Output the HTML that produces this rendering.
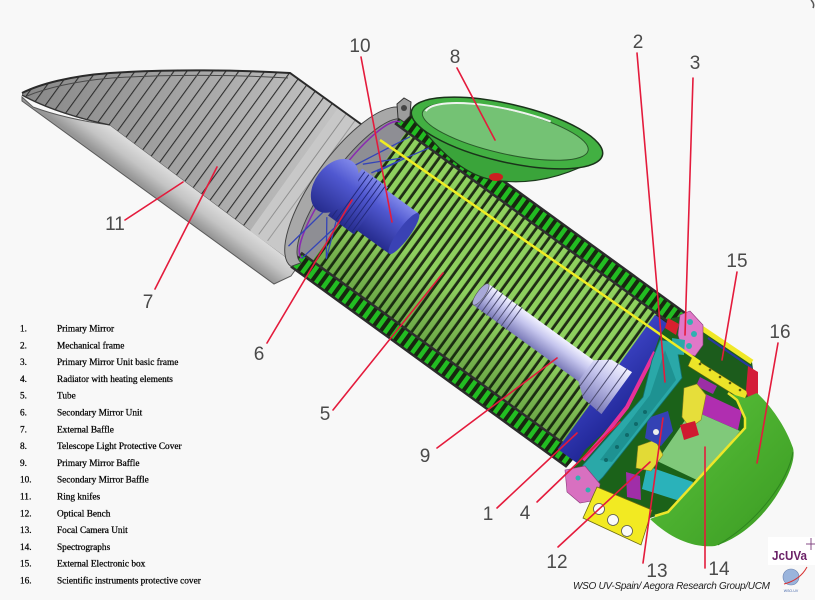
<!DOCTYPE html>
<html><head><meta charset="utf-8">
<style>
html,body{margin:0;padding:0;background:#f8f8f8;overflow:hidden;}
svg{display:block;}
</style></head><body>
<svg width="815" height="600" viewBox="0 0 815 600" xmlns="http://www.w3.org/2000/svg">
<defs>
<pattern id="ribs" patternUnits="userSpaceOnUse" x="0" y="-200" width="8" height="400"><rect width="8" height="400" fill="#1e2c14"/><rect x="1.5" width="5.2" height="400" fill="#8ed05e"/></pattern>
<pattern id="dash" patternUnits="userSpaceOnUse" x="0" y="-200" width="8.5" height="400"><rect width="8.5" height="400" fill="#17260f"/><rect x="2" width="4.5" height="400" fill="#22bd22"/></pattern>
<pattern id="hatch" patternUnits="userSpaceOnUse" x="0" y="-400" width="10.5" height="800" patternTransform="translate(348,188) rotate(36)"><rect x="0" width="1.1" height="800" fill="#2e2e2e"/></pattern>
<linearGradient id="bafIn" gradientUnits="userSpaceOnUse" x1="20" y1="0" x2="360" y2="0"><stop offset="0" stop-color="#888888"/><stop offset=".45" stop-color="#a2a2a2"/><stop offset=".75" stop-color="#b6b6b6"/><stop offset="1" stop-color="#c8c8c8"/></linearGradient>
<linearGradient id="bafOut" gradientUnits="userSpaceOnUse" x1="200" y1="193" x2="183" y2="216"><stop offset="0" stop-color="#dcdcdc"/><stop offset=".5" stop-color="#c4c4c4"/><stop offset="1" stop-color="#969696"/></linearGradient>
<linearGradient id="blueG" x1="0" y1="0" x2="0" y2="1"><stop offset="0" stop-color="#8088ea"/><stop offset=".35" stop-color="#5058d0"/><stop offset="1" stop-color="#262c8e"/></linearGradient>
<linearGradient id="lavG" x1="0" y1="0" x2="0" y2="1"><stop offset="0" stop-color="#f2f2ff"/><stop offset=".4" stop-color="#c6c6ee"/><stop offset="1" stop-color="#7a7ab8"/></linearGradient>
<linearGradient id="mirG" x1="0" y1="0" x2="1" y2="1"><stop offset="0" stop-color="#3a42c2"/><stop offset="1" stop-color="#1e2492"/></linearGradient>
<linearGradient id="covG" x1="0" y1="0" x2="1" y2="1"><stop offset="0" stop-color="#5cc43c"/><stop offset="1" stop-color="#3a9a22"/></linearGradient>
<linearGradient id="shadeG" x1="0" y1="0" x2="0" y2="1"><stop offset="0" stop-color="#000" stop-opacity="0"/><stop offset=".6" stop-color="#000" stop-opacity="0"/><stop offset="1" stop-color="#0a3a05" stop-opacity=".25"/></linearGradient>
</defs>

<rect width="815" height="600" fill="#f8f8f8"/>

<!-- External baffle -->
<path d="M22,97 L33,107 C60,117 88,122 110,125 L298,266 L291,276 L274,284 L22,101 Z" fill="url(#bafOut)" stroke="#5a5a5a" stroke-width="1"/>
<path d="M22,93 C40,84 70,76 110,73 C170,69 240,70 290,73 L365,127 C345,140 318,180 298,266 L110,125 C75,119 45,108 22,95 Z" fill="url(#bafIn)"/>
<path d="M22,93 C40,84 70,76 110,73 C170,69 240,70 290,73 L365,127 C345,140 318,180 298,266 L110,125 C75,119 45,108 22,95 Z" fill="url(#hatch)"/>
<path d="M338,108 L365,127 C345,140 318,180 298,266 L250,231 Z" fill="#c8c8c8"/>
<g transform="translate(348,188) rotate(36)">
<line x1="-45" y1="-59" x2="-45" y2="90" stroke="#8e8e8e" stroke-width="1"/>
<line x1="-34" y1="-59" x2="-34" y2="90" stroke="#9a9a9a" stroke-width="1"/>
</g>
<path d="M22,93 C40,84 70,76 110,73 C170,69 240,70 290,73 L365,127" fill="none" stroke="#2a2a2a" stroke-width="2"/>
<path d="M27,96 C46,88 76,81 112,78 C170,74 240,75 288,78" fill="none" stroke="#4a4a4a" stroke-width="1"/>
<path d="M22,95 C45,108 80,119 110,125" fill="none" stroke="#333" stroke-width="1.3"/>

<!-- Tube (local frame) -->
<g transform="translate(348,188) rotate(36)">
<path d="M0,-97 L356,-97 L341,97 L0,97 A34 97 0 0 1 0,-97 Z" fill="#1c2812"/>
<path d="M6,-88 A26 88 0 0 0 6,88 L16,80 L16,-80 Z" fill="#8e8e94"/>
<polygon points="14,-80 324,-80 324,80 14,80" fill="url(#ribs)"/>
<polygon points="14,-80 324,-80 324,80 14,80" fill="url(#shadeG)"/>
<polygon points="0,-97 356,-97 354.7,-80 0,-80" fill="url(#dash)"/>
<polygon points="0,80 342.3,80 341,97 0,97" fill="url(#dash)"/>
<line x1="0" y1="-97" x2="356" y2="-97" stroke="#2b2b2b" stroke-width="2.5"/>
<line x1="0" y1="-80" x2="354" y2="-80" stroke="#2e2e2e" stroke-width="2.5"/>
<line x1="0" y1="80" x2="342" y2="80" stroke="#2e2e2e" stroke-width="2.5"/>
<line x1="0" y1="97" x2="341" y2="97" stroke="#2b2b2b" stroke-width="2.5"/>
<!-- primary mirror -->
<polygon points="323,-78 346,-78 352,-40 354,46 350,88 323,88" fill="url(#mirG)"/>
<!-- primary mirror baffle -->
<rect x="170" y="-5" width="135" height="26" fill="url(#lavG)"/>
<path d="M300,-5 L314,-16 L338,-18 L338,34 L314,32 L300,21 Z" fill="url(#lavG)"/>
<ellipse cx="170" cy="8" rx="4" ry="13" fill="#a8a8d8" stroke="#555" stroke-width=".6"/>
<g stroke="#4e4e72" stroke-width="1">
<line x1="175" y1="-6" x2="175" y2="22"/><line x1="181" y1="-6" x2="181" y2="22"/><line x1="187" y1="-6" x2="187" y2="22"/><line x1="193" y1="-6" x2="193" y2="22"/><line x1="199" y1="-6" x2="199" y2="22"/><line x1="205" y1="-6" x2="205" y2="22"/><line x1="211" y1="-6" x2="211" y2="22"/>
<line x1="304" y1="-8" x2="304" y2="24"/><line x1="312" y1="-14" x2="312" y2="30"/><line x1="322" y1="-17" x2="322" y2="33"/><line x1="332" y1="-18" x2="332" y2="34"/>
</g>
<!-- front ring -->
<path d="M0,-97 A34 97 0 0 0 0,97 L6,88 A26 88 0 0 1 6,-88 Z" fill="#a8a8a8" stroke="#444" stroke-width="1"/>
<path d="M4,-84 A20 84 0 0 0 4,84" fill="none" stroke="#8a2ab0" stroke-width="1.5"/>
<!-- spider -->
<g stroke="#3444b8" stroke-width="1.3" fill="none">
<path d="M-8,-22 L20,-78 M10,-26 L42,-80 M-2,-28 L30,-60 L14,-30"/>
<path d="M-6,34 L-14,82 M14,32 L4,84 M0,36 L24,70 L10,34"/>
</g>
<!-- secondary mirror unit -->
<rect x="30" y="-21" width="42" height="50" fill="url(#blueG)"/>
<ellipse cx="72" cy="4" rx="6" ry="25" fill="#3a42b4"/>
<rect x="0" y="-24" width="32" height="58" fill="url(#blueG)"/>
<g stroke="#22287a" stroke-width="1"><line x1="4" y1="-23" x2="4" y2="33"/><line x1="9" y1="-23" x2="9" y2="33"/><line x1="14" y1="-23" x2="14" y2="33"/><line x1="19" y1="-23" x2="19" y2="33"/><line x1="24" y1="-23" x2="24" y2="33"/><line x1="29" y1="-23" x2="29" y2="33"/></g>
<ellipse cx="-12" cy="6" rx="20" ry="30" fill="url(#blueG)"/>
</g>

<!-- front top mechanism -->
<polygon points="397,104 404,98 411,102 410,116 404,122 398,118" fill="#9c9c9c" stroke="#333" stroke-width="1"/>
<circle cx="404" cy="108" r="3" fill="#444"/>

<!-- Rear section -->
<polygon points="684,316 700,326 690,362 745,398 757,396 745,428 700,480 668,512 650,518 640,522 620,512 600,500 583,490 572,470 585,450 600,436 627,407 652,358 660,335 672,318" fill="#1b6219"/>
<polygon points="668,318 679,324 676,335 665,328" fill="#d8202e"/>
<!-- box 15 -->
<polygon points="700,327 752,362 757,396 745,398 690,362 695,340" fill="#1c5c1c"/>
<line x1="708" y1="338" x2="752" y2="368" stroke="#2838a0" stroke-width="2"/>
<line x1="700" y1="327" x2="752" y2="362" stroke="#f0e828" stroke-width="5"/>
<polygon points="692,357 748,392 744,401 688,366" fill="#ece428" stroke="#6a6410" stroke-width=".6"/>
<g fill="#5a5a10"><circle cx="700" cy="364" r="1.3"/><circle cx="710" cy="370" r="1.3"/><circle cx="720" cy="377" r="1.3"/><circle cx="730" cy="383" r="1.3"/><circle cx="740" cy="390" r="1.3"/></g>
<polygon points="748,366 758,372 758,396 748,398 746,390" fill="#d41e3a"/>
<!-- pink frame top -->
<polygon points="680,315 690,311 703,325 703,345 695,356 683,352 678,335" fill="#e078c8" stroke="#8a3a7a" stroke-width=".6"/>
<g fill="#30b0b0"><circle cx="690" cy="322" r="3"/><circle cx="694" cy="334" r="3"/><circle cx="689" cy="346" r="3"/></g>
<!-- inner components -->
<polygon points="700,377 717,386 713,394 696,386" fill="#9c2ea6"/>
<polygon points="697,390 742,411 738,430 692,410" fill="#b02eb0"/>
<polygon points="692,410 740,431 699,481 657,461" fill="#80c97a"/>
<polygon points="647,466 693,482 686,503 642,489" fill="#2ab2ba"/>
<polygon points="626,472 640,476 641,500 627,497" fill="#a02ea8"/>
<polygon points="684,388 697,384 706,395 701,420 690,428 682,417" fill="#e6de3a" stroke="#8a8420" stroke-width=".6"/>
<polygon points="638,446 655,440 663,455 651,471 636,468" fill="#e2da36" stroke="#8a8420" stroke-width=".6"/>
<polygon points="648,418 668,411 673,431 661,446 645,438" fill="#3442b4"/>
<circle cx="656" cy="432" r="3" fill="#eeeeee"/>
<polygon points="680,425 695,421 699,435 684,440" fill="#d01a30"/>
<!-- pink strip & cyan frame -->
<polyline points="655,352 627,407 605,435 583,460" fill="none" stroke="#e8309a" stroke-width="4"/>
<polygon points="660,340 676,342 682,378 603,477 590,490 578,480 583,465 643,397 652,360" fill="#2aa8a8" stroke="#127070" stroke-width=".8"/>
<polygon points="665,350 676,380 612,462 600,460 650,395" fill="#1e9292"/>
<polygon points="672,338 685,340 684,355 673,354" fill="#2aa8a8"/>
<g fill="#0f6a6a"><circle cx="645" cy="412" r="2"/><circle cx="636" cy="424" r="2"/><circle cx="627" cy="435" r="2"/><circle cx="617" cy="447" r="2"/><circle cx="606" cy="460" r="2"/></g>
<!-- pink bottom -->
<polygon points="565,470 585,466 600,484 597,500 580,503 567,492" fill="#d870c0" stroke="#8a3a7a" stroke-width=".6"/>
<g fill="#30b0b0"><circle cx="578" cy="478" r="2.5"/><circle cx="588" cy="490" r="2.5"/></g>
<!-- yellow plate -->
<polygon points="597,487 652,510 641,545 583,518" fill="#f2ea22" stroke="#6a6a10" stroke-width=".8"/>
<g fill="#fafafa" stroke="#555" stroke-width=".8"><circle cx="599" cy="509" r="5.5"/><circle cx="613" cy="520" r="5.5"/><circle cx="627" cy="531" r="5.5"/></g>
<!-- cover 16 -->
<path d="M745,398 L757,393 C770,405 785,425 793,448 C796,460 788,478 775,498 C760,520 740,538 715,546 C695,548 672,540 650,519 L668,512 L745,428 L745,418 L737,400 L728,393 Z" fill="url(#covG)"/>
<path d="M793,452 C788,480 760,520 718,545" fill="none" stroke="#2e8420" stroke-width="1"/>
<polyline points="728,393 737,400 745,418 745,428 668,512 655,516" fill="none" stroke="#ece62a" stroke-width="2.5"/>
<!-- tube yellow line -->
<line x1="380" y1="140" x2="700" y2="362" stroke="#f0ec22" stroke-width="2.5"/>

<!-- Lid 8 -->
<g transform="translate(507,133) rotate(13)">
<path d="M-96,4 Q-45,50 -5,49 Q50,46 97,2 Z" fill="#3aa43a" stroke="#1c3a1c" stroke-width="1.2"/>
<ellipse rx="98" ry="29" fill="#42b042" stroke="#1a331a" stroke-width="1.5"/>
<ellipse cx="-2" cy="-1" rx="85" ry="22" fill="#74c274" stroke="#2a5a2a" stroke-width="1"/>
<path d="M-84,-3 A85 22 0 0 1 40,-21" fill="none" stroke="#eef4ee" stroke-width="2"/>
</g>
<ellipse cx="496" cy="177" rx="7" ry="4" fill="#cc2020"/>

<!-- Leader lines -->
<g stroke="#e41b3c" stroke-width="1.6" fill="none" stroke-linecap="round">
<line x1="361" y1="57" x2="392" y2="222"/>
<line x1="457" y1="68" x2="495" y2="140"/>
<line x1="637" y1="53" x2="665" y2="382"/>
<line x1="693" y1="78" x2="685" y2="335"/>
<line x1="737" y1="272" x2="722" y2="360"/>
<line x1="778" y1="343" x2="757" y2="463"/>
<line x1="125" y1="220" x2="183" y2="182"/>
<line x1="155" y1="289" x2="217" y2="167"/>
<line x1="267" y1="343" x2="352" y2="200"/>
<line x1="333" y1="410" x2="443" y2="273"/>
<line x1="437" y1="448" x2="557" y2="358"/>
<line x1="497" y1="508" x2="577" y2="433"/>
<line x1="537" y1="502" x2="620" y2="422"/>
<line x1="558" y1="547" x2="650" y2="462"/>
<line x1="643" y1="563" x2="663" y2="418"/>
<line x1="705" y1="568" x2="705" y2="447"/>
</g>

<!-- Labels -->
<g font-family="Liberation Sans, Arial, sans-serif" font-size="19" fill="#4a4a4a" text-anchor="middle">
<text x="360" y="52">10</text>
<text x="455" y="63">8</text>
<text x="638" y="48">2</text>
<text x="695" y="69">3</text>
<text x="737" y="267">15</text>
<text x="780" y="338">16</text>
<text x="115" y="230">11</text>
<text x="148" y="308">7</text>
<text x="259" y="360">6</text>
<text x="325" y="420">5</text>
<text x="425" y="462">9</text>
<text x="488" y="520">1</text>
<text x="525" y="519">4</text>
<text x="557" y="568">12</text>
<text x="657" y="577">13</text>
<text x="719" y="575">14</text>
</g>

<!-- Legend -->
<g font-family="Liberation Serif, 'Times New Roman', serif" font-size="9.3" fill="#000" stroke="#000" stroke-width="0.25">
<text x="20" y="331.5">1.</text><text x="57" y="331.5">Primary Mirror</text>
<text x="20" y="348.3">2.</text><text x="57" y="348.3">Mechanical frame</text>
<text x="20" y="365.1">3.</text><text x="57" y="365.1">Primary Mirror Unit basic frame</text>
<text x="20" y="381.9">4.</text><text x="57" y="381.9">Radiator with heating elements</text>
<text x="20" y="398.7">5.</text><text x="57" y="398.7">Tube</text>
<text x="20" y="415.5">6.</text><text x="57" y="415.5">Secondary Mirror Unit</text>
<text x="20" y="432.3">7.</text><text x="57" y="432.3">External Baffle</text>
<text x="20" y="449.1">8.</text><text x="57" y="449.1">Telescope Light Protective Cover</text>
<text x="20" y="465.9">9.</text><text x="57" y="465.9">Primary Mirror Baffle</text>
<text x="20" y="482.7">10.</text><text x="57" y="482.7">Secondary Mirror Baffle</text>
<text x="20" y="499.5">11.</text><text x="57" y="499.5">Ring knifes</text>
<text x="20" y="516.3">12.</text><text x="57" y="516.3">Optical Bench</text>
<text x="20" y="533.1">13.</text><text x="57" y="533.1">Focal Camera Unit</text>
<text x="20" y="549.9">14.</text><text x="57" y="549.9">Spectrographs</text>
<text x="20" y="566.7">15.</text><text x="57" y="566.7">External Electronic box</text>
<text x="20" y="583.5">16.</text><text x="57" y="583.5">Scientific instruments protective cover</text>
</g>

<!-- Credits -->
<text x="573" y="589" font-family="Liberation Sans, Arial, sans-serif" font-style="italic" font-size="10" fill="#222" textLength="197" lengthAdjust="spacing">WSO UV-Spain/ Aegora Research Group/UCM</text>
<rect x="768" y="537" width="47" height="28" fill="#ffffff"/>
<text x="772" y="560" font-family="Liberation Sans, Arial, sans-serif" font-weight="bold" font-size="13" fill="#6b2268" textLength="35" lengthAdjust="spacingAndGlyphs">JcUVa</text>
<g stroke="#7a3a7a" stroke-width=".9"><line x1="811" y1="538" x2="811" y2="550"/><line x1="806" y1="544" x2="815" y2="544"/></g>
<circle cx="791" cy="577" r="8" fill="#9ab4dc" stroke="#6a82b0" stroke-width=".6"/>
<path d="M784,584 Q800,580 807,567" fill="none" stroke="#d83030" stroke-width="1"/>
<text x="791" y="592" font-family="Liberation Sans, Arial, sans-serif" font-size="3.5" fill="#4466aa" text-anchor="middle">WSO-UV</text>
<path d="M811,0 Q815,4 813,8" fill="none" stroke="#555" stroke-width="1.5"/>
</svg>
</body></html>
